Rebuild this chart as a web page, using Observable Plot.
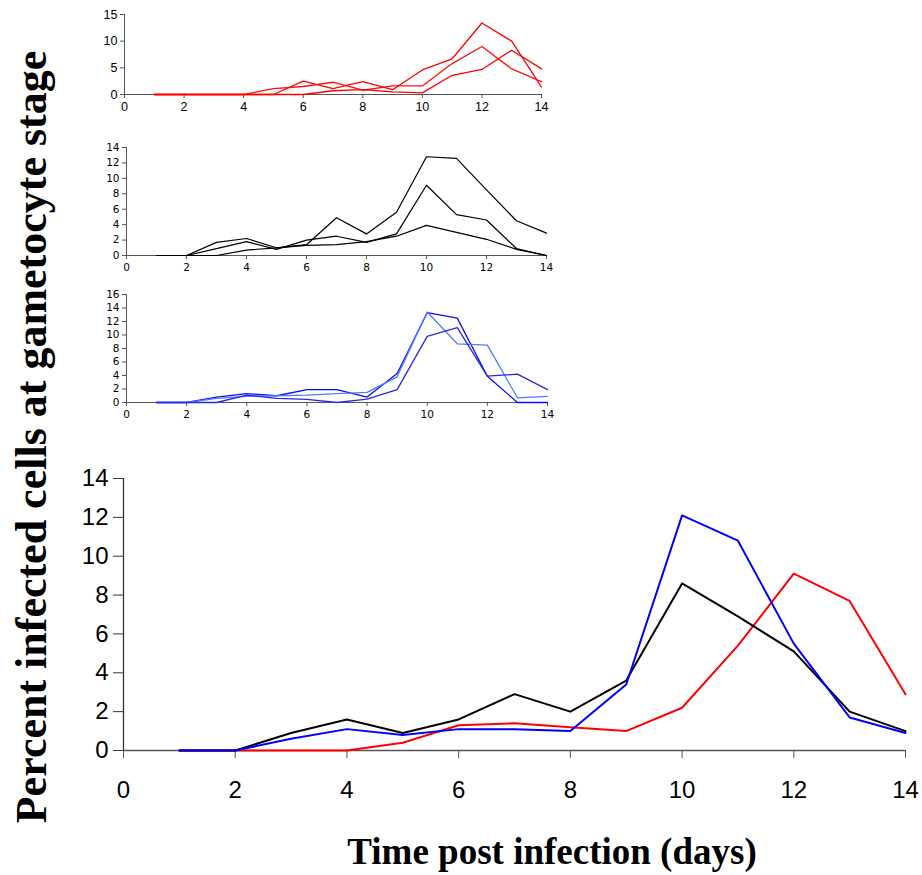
<!DOCTYPE html>
<html>
<head>
<meta charset="utf-8">
<script src="https://cdn.jsdelivr.net/npm/d3@7"></script>
<script src="https://cdn.jsdelivr.net/npm/@observablehq/plot@0.6"></script>
<style>
  body { margin: 0; background: #fff; }
  #wrap { position: relative; width: 922px; height: 875px; overflow: hidden; background: #fff; }
  .panel { position: absolute; }
  #ylab { position: absolute; left: 31px; top: 437px; transform: translate(-50%, -50%) rotate(-90deg);
          font-family: "Liberation Serif", "Times New Roman", serif; font-weight: bold; font-size: 44px; white-space: nowrap; color: #000; }
  #xlab { position: absolute; left: 552px; top: 851px; transform: translate(-50%, -50%);
          font-family: "Liberation Serif", "Times New Roman", serif; font-weight: bold; font-size: 37px; white-space: nowrap; color: #000; }
</style>
</head>
<body>
<div id="wrap">
  <div class="panel" id="pRed" style="left:0;top:0"></div>
  <div class="panel" id="pBlack" style="left:0;top:135px"></div>
  <div class="panel" id="pBlue" style="left:0;top:285px"></div>
  <div class="panel" id="pMain" style="left:0;top:460px"></div>
  <div id="ylab">Percent infected cells at gametocyte stage</div>
  <div id="xlab">Time post infection (days)</div>
</div>
<script>
// Days post infection
const days = [1,2,3,4,5,6,7,8,9,10,11,12,13,14];

// Red replicates (top panel)
const red1 = [0,0,0,0,0,2.5,1.1,2.4,0.9,4.6,6.7,13.4,10.0,1.4];
const red2 = [0,0,0,0,1.1,1.5,2.3,0.8,1.6,1.6,5.8,9.0,4.8,2.4];
const red3 = [0,0,0,0,0,0,0.7,0.9,0.5,0.3,3.6,4.7,8.3,4.8];

// Black replicates (middle panel)
const black1 = [0,0,1.7,2.2,1.0,1.4,4.9,2.8,5.6,12.8,12.6,8.5,4.5,2.9];
const black2 = [0,0,0.9,1.8,0.8,2.0,2.5,1.7,2.8,9.1,5.3,4.6,0.9,0];
const black3 = [0,0,0,0.7,1.0,1.3,1.4,1.8,2.5,3.9,3.0,2.1,0.8,0];

// Blue replicates (third panel)
const blue1 = [0,0,0.8,1.3,1.0,1.9,1.9,0.8,4.3,13.3,12.5,3.9,0,0];
const blue2 = [0,0,0.6,0.9,1.0,1.1,1.3,1.5,3.8,13.4,8.7,8.5,0.7,0.9];
const blue3 = [0,0,0,1.1,0.6,0.45,0,0.5,1.9,9.8,11.1,3.9,4.2,1.9];

// Means (main panel)
const meanRed   = [0,0,0,0,0.4,1.3,1.4,1.2,1.0,2.2,5.4,9.1,7.7,2.9];
const meanBlack = [0,0,0.9,1.6,0.9,1.6,2.9,2.0,3.6,8.6,6.9,5.1,2.0,1.0];
const meanBlue  = [0,0,0.6,1.1,0.8,1.1,1.1,1.0,3.4,12.1,10.8,5.5,1.7,0.9];

// Tick labels
const xTicks = [0,2,4,6,8,10,12,14];
const yTicksRed = [0,5,10,15];
const yTicksBlack = [0,2,4,6,8,10,12,14];
const yTicksBlue = [0,2,4,6,8,10,12,14,16];
const yTicksMain = [0,2,4,6,8,10,12,14];

function rows(vals, key) { return days.map((d, i) => ({day: d, v: vals[i], s: key})); }

function small({series, colors, yMax, yTicks, width, height, mt, mb, ml, mr, font, family, sw}) {
  const marks = [
    Plot.ruleY([0], {stroke: "#555", strokeWidth: 1}),
    Plot.ruleX([0], {y1: 0, y2: yMax, stroke: "#555", strokeWidth: 1}),
    Plot.axisX({ticks: xTicks, tickSize: 4, tickPadding: 4, tickFormat: d => d, stroke: "#555"}),
    Plot.axisY({ticks: yTicks, tickSize: 4, tickPadding: 3, tickFormat: d => d, stroke: "#555"})
  ];
  series.forEach((s, i) => {
    marks.push(Plot.line(rows(s, "s" + i), {x: "day", y: "v", stroke: colors[i], strokeWidth: sw}));
  });
  return Plot.plot({
    width, height, marginTop: mt, marginBottom: mb, marginLeft: ml, marginRight: mr,
    x: {domain: [0, 14], label: null},
    y: {domain: [0, yMax], label: null},
    style: {fontFamily: family, fontSize: font + "px", color: "#000", background: "transparent", overflow: "visible"},
    marks
  });
}

document.getElementById("pRed").appendChild(small({
  series: [red1, red2, red3], colors: ["#ff0000", "#ff1010", "#ff0000"], yMax: 15, yTicks: yTicksRed,
  width: 560, height: 120, mt: 14, mb: 26, ml: 124, mr: 19, font: 12.5, family: "Liberation Sans, Arial, sans-serif", sw: 1.3
}));
document.getElementById("pBlack").appendChild(small({
  series: [black1, black2, black3], colors: ["#000", "#000", "#000"], yMax: 14, yTicks: yTicksBlack,
  width: 560, height: 140, mt: 12, mb: 20, ml: 126, mr: 14, font: 10.5, family: "DejaVu Sans, sans-serif", sw: 1.2
}));
document.getElementById("pBlue").appendChild(small({
  series: [blue1, blue2, blue3], colors: ["#0a0aff", "#4d7dff", "#2828e6"], yMax: 16, yTicks: yTicksBlue,
  width: 560, height: 135, mt: 9, mb: 18, ml: 126, mr: 13, font: 10.5, family: "DejaVu Sans, sans-serif", sw: 1.3
}));

const mainMarks = [
  Plot.ruleY([0], {stroke: "#555", strokeWidth: 1.3}),
  Plot.ruleX([0], {y1: 0, y2: 14, stroke: "#333", strokeWidth: 1.3}),
  Plot.axisX({ticks: xTicks, tickSize: 8, tickPadding: 22, tickFormat: d => d, stroke: "#555"}),
  Plot.axisY({ticks: yTicksMain, tickSize: 10, tickPadding: 5, tickFormat: d => d, stroke: "#333"}),
  Plot.line(rows(meanRed, "r"), {x: "day", y: "v", stroke: "#ff0000", strokeWidth: 2}),
  Plot.line(rows(meanBlack, "k"), {x: "day", y: "v", stroke: "#000", strokeWidth: 2}),
  Plot.line(rows(meanBlue, "b"), {x: "day", y: "v", stroke: "#0000ff", strokeWidth: 2})
];
document.getElementById("pMain").appendChild(Plot.plot({
  width: 922, height: 340, marginTop: 18, marginBottom: 50, marginLeft: 123, marginRight: 17,
  x: {domain: [0, 14], label: null},
  y: {domain: [0, 14], label: null},
  style: {fontFamily: "Liberation Sans, Arial, sans-serif", fontSize: "24px", color: "#000", background: "transparent", overflow: "visible"},
  marks: mainMarks
}));
</script>
</body>
</html>
